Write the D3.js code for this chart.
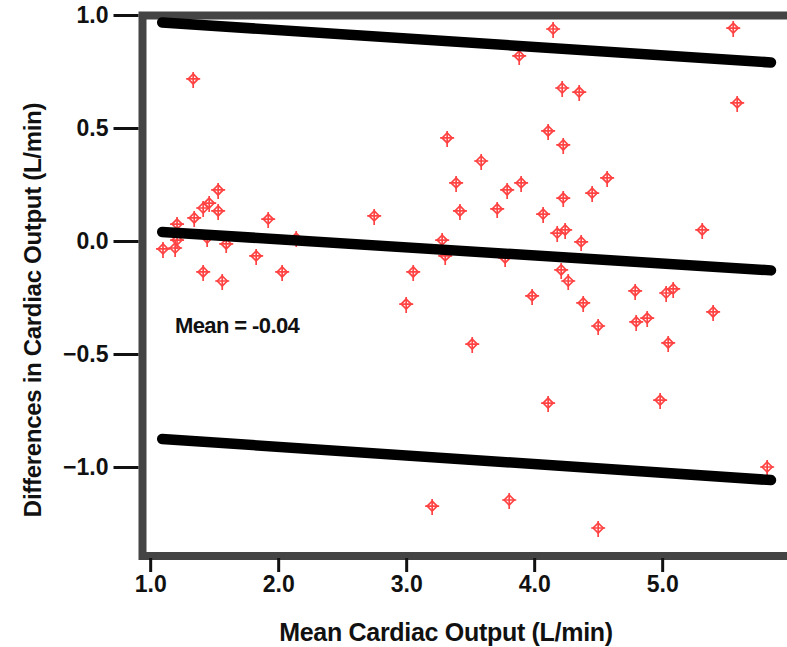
<!DOCTYPE html>
<html>
<head>
<meta charset="utf-8">
<script src="https://cdn.jsdelivr.net/npm/d3@7"></script>
<style>
  body { margin: 0; background: #fff; }
  svg text { font-family: "Liberation Sans", Arial, Helvetica, sans-serif; fill: #111; }
</style>
</head>
<body>
<div id="chart"></div>
<script>
// mean of the two methods (x) and their difference (y), L/min
const meanCO = [
  1.10, 1.195, 1.21, 1.21, 1.336, 1.344, 1.414, 1.461, 1.531, 1.531,
  1.445, 1.414, 1.563, 1.594, 1.828, 1.922, 2.031, 2.141, 2.75, 3.0,
  3.055, 3.203, 3.281, 3.305, 3.32, 3.39, 3.42, 3.516, 3.586, 3.711,
  3.773, 3.789, 3.805, 3.883, 3.898, 3.984, 4.07, 4.109, 4.109, 4.148,
  4.18, 4.219, 4.227, 4.227, 4.242, 4.211, 4.266, 4.352, 4.367, 4.383,
  4.453, 4.5, 4.5, 4.57, 4.789, 4.797, 4.883, 4.984, 5.031, 5.086,
  5.047, 5.313, 5.398, 5.555, 5.586, 5.82
];
const diffCO = [
  -0.035, -0.031, 0.004, 0.075, 0.717, 0.102, 0.146, 0.168, 0.226, 0.133,
  0.013, -0.137, -0.177, -0.013, -0.066, 0.097, -0.137, 0.013, 0.111, -0.279,
  -0.137, -1.173, 0.004, -0.066, 0.456, 0.257, 0.133, -0.456, 0.354, 0.142,
  -0.075, 0.226, -1.146, 0.819, 0.257, -0.243, 0.119, 0.487, -0.717, 0.938,
  0.035, 0.677, 0.425, 0.19, 0.049, -0.128, -0.177, 0.659, -0.004, -0.274,
  0.212, -0.376, -1.27, 0.279, -0.221, -0.358, -0.341, -0.704, -0.23, -0.212,
  -0.451, 0.049, -0.314, 0.942, 0.611, -1.0
];

// limit-of-agreement and mean lines (end points)
const lineX = [1.094, 5.85];
const upperY = [0.967, 0.79];
const meanY = [0.04, -0.13];
const lowerY = [-0.876, -1.058];

const xTicks = [1, 2, 3, 4, 5];
const yTicks = [1.0, 0.5, 0.0, -0.5, -1.0];
const meanLabel = 'Mean = -0.04';

const width = 787, height = 647;
const plot = { left: 142.5, top: 15.5, bottom: 556 };

const svg = d3.select('#chart')
    .append('svg')
    .attr('width', width)
    .attr('height', height);

const x = d3.scaleLinear()
    .domain([0.94, 5.98])
    .range([plot.left, plot.left + 5.04 * 128]);

const y = d3.scaleLinear()
    .domain([1.0, -1.0])
    .range([15, 467]);

// frame (top, left, bottom; open on the right)
svg.append('path')
    .attr('d', `M${width + 10},${plot.top} H${plot.left} V${plot.bottom} H${width + 10}`)
    .attr('fill', 'none')
    .attr('stroke', '#444')
    .attr('stroke-width', 8);

// y axis ticks + labels
const yAxis = d3.axisLeft(y)
    .tickValues(yTicks)
    .tickFormat(d3.format('.1f'))
    .tickSize(25)
    .tickPadding(5);

const gy = svg.append('g')
    .attr('transform', `translate(${plot.left - 4}, 0)`)
    .call(yAxis);
gy.select('.domain').remove();
gy.selectAll('line').attr('stroke', '#111').attr('stroke-width', 3);
gy.selectAll('text')
    .style('font-size', '23px')
    .style('font-weight', 'bold')
    .attr('fill', '#111');

// x axis ticks + labels
const xAxis = d3.axisBottom(x)
    .tickValues(xTicks)
    .tickFormat(d3.format('.1f'))
    .tickSize(14)
    .tickPadding(4);

const gx = svg.append('g')
    .attr('transform', `translate(0, ${plot.bottom + 2})`)
    .call(xAxis);
gx.select('.domain').remove();
gx.selectAll('line').attr('stroke', '#111').attr('stroke-width', 3);
gx.selectAll('text')
    .style('font-size', '23px')
    .style('font-weight', 'bold')
    .attr('fill', '#111');

// points: red cross with a diamond on top
const pts = svg.append('g')
    .selectAll('g')
    .data(meanCO.map((m, i) => [m, diffCO[i]]))
    .enter()
    .append('g')
    .attr('transform', d => `translate(${x(d[0])}, ${y(d[1])})`)
    .attr('stroke', '#ff4242')
    .attr('stroke-width', 1.7)
    .attr('fill', 'none');

pts.append('path').attr('d', 'M0,-5 L5,0 L0,5 L-5,0 Z');
pts.append('path').attr('d', 'M0,-7 V9 M-7,0 H7');

// regression-style lines
const line = d3.line()
    .x(d => x(d[0]))
    .y(d => y(d[1]));

[upperY, meanY, lowerY].forEach(ys => {
    svg.append('path')
        .datum(lineX.map((v, i) => [v, ys[i]]))
        .attr('d', line)
        .attr('fill', 'none')
        .attr('stroke', '#000')
        .attr('stroke-width', 10.5)
        .attr('stroke-linecap', 'round');
});

// mean annotation
svg.append('text')
    .attr('x', 175)
    .attr('y', 333)
    .style('font-size', '22px')
    .style('font-weight', 'bold')
    .style('letter-spacing', '-0.6px')
    .text(meanLabel);

// axis titles
svg.append('text')
    .attr('x', 446)
    .attr('y', 641)
    .attr('text-anchor', 'middle')
    .style('font-size', '25px')
    .style('font-weight', 'bold')
    .style('letter-spacing', '-0.3px')
    .text('Mean Cardiac Output (L/min)');

svg.append('text')
    .attr('transform', 'translate(41, 310) rotate(-90)')
    .attr('text-anchor', 'middle')
    .style('font-size', '24px')
    .style('font-weight', 'bold')
    .style('letter-spacing', '-0.3px')
    .text('Differences in Cardiac Output (L/min)');
</script>
</body>
</html>
